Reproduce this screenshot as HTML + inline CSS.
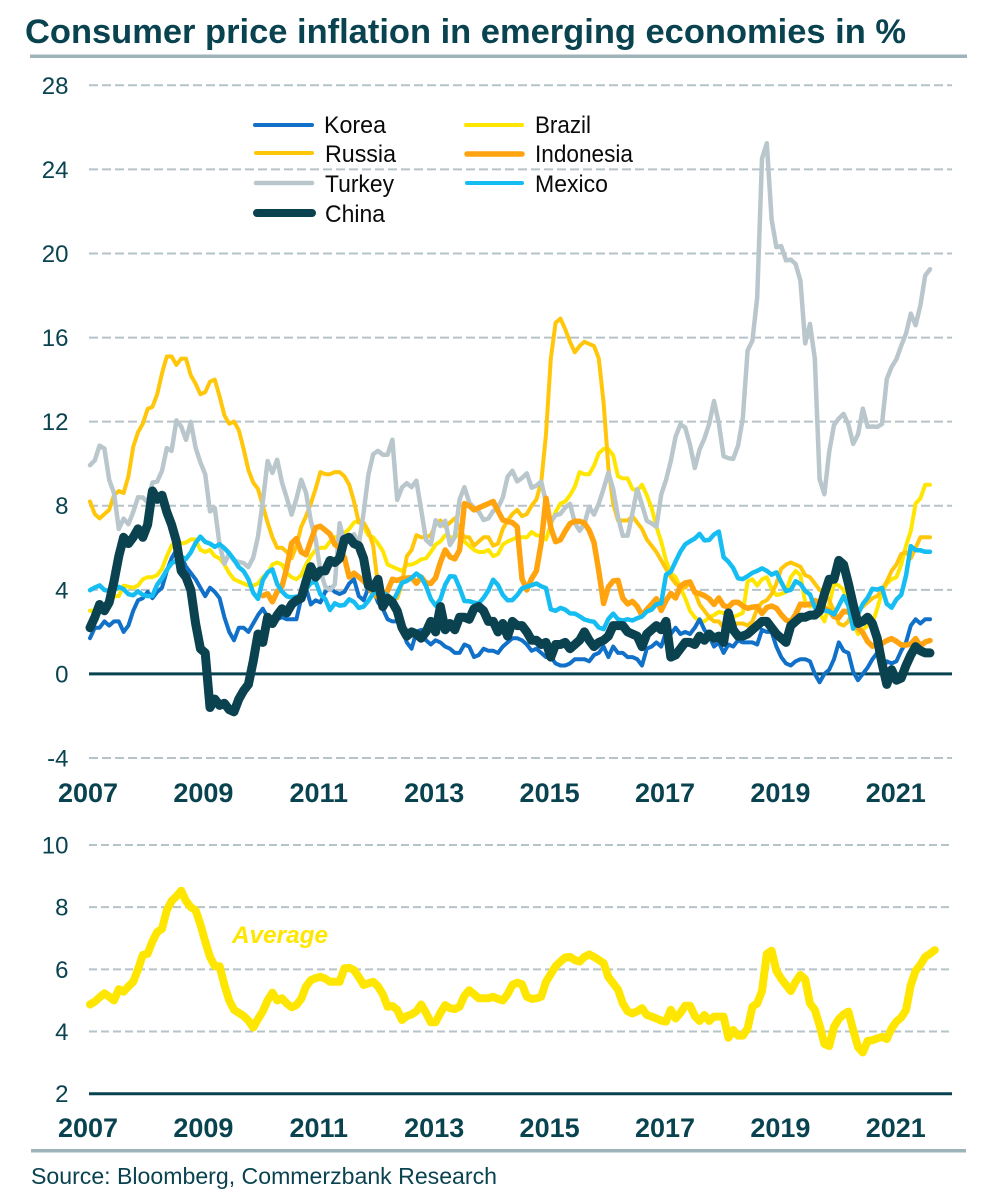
<!DOCTYPE html>
<html lang="en">
<head>
<meta charset="utf-8">
<title>Consumer price inflation in emerging economies</title>
<style>
html,body{margin:0;padding:0;background:#fff;}
#chart{display:block;width:983px;height:1200px;font-family:"Liberation Sans",sans-serif;}
</style>
</head>
<body>
<svg id="chart" xmlns="http://www.w3.org/2000/svg" width="983" height="1200" viewBox="0 0 983 1200">
  <rect x="0" y="0" width="983" height="1200" fill="#fff"/>
  <text x="25" y="43" font-size="34.5" font-weight="700" fill="#0a4350" textLength="881" lengthAdjust="spacingAndGlyphs">Consumer price inflation in emerging economies in %</text>
  <rect x="30" y="54.5" width="937" height="3.5" fill="#9fb3ba"/>
  <g id="top-grid"></g>
  <g id="top-series"></g>
  <g id="top-axis"></g>
  <g font-size="24" fill="#0a0a0a">
    <g><line x1="255" x2="312" y1="125" y2="125" stroke="#1170c8" stroke-width="4" stroke-linecap="round"/><text x="324" y="133" textLength="62" lengthAdjust="spacingAndGlyphs">Korea</text></g>
    <g><line x1="256" x2="312" y1="153" y2="153" stroke="#ffc60a" stroke-width="4" stroke-linecap="round"/><text x="325" y="162" textLength="71" lengthAdjust="spacingAndGlyphs">Russia</text></g>
    <g><line x1="256" x2="312" y1="183" y2="183" stroke="#b9c7cc" stroke-width="4.5" stroke-linecap="round"/><text x="325" y="192" textLength="69" lengthAdjust="spacingAndGlyphs">Turkey</text></g>
    <g><line x1="257" x2="312" y1="213" y2="213" stroke="#0b4250" stroke-width="8" stroke-linecap="round"/><text x="325" y="222" textLength="60" lengthAdjust="spacingAndGlyphs">China</text></g>
    <g><line x1="466" x2="522" y1="125" y2="125" stroke="#ffe600" stroke-width="4" stroke-linecap="round"/><text x="535" y="133" textLength="56" lengthAdjust="spacingAndGlyphs">Brazil</text></g>
    <g><line x1="467" x2="522" y1="154" y2="154" stroke="#ffa40f" stroke-width="5.5" stroke-linecap="round"/><text x="535" y="162" textLength="98" lengthAdjust="spacingAndGlyphs">Indonesia</text></g>
    <g><line x1="467" x2="522" y1="183" y2="183" stroke="#16bdf2" stroke-width="4" stroke-linecap="round"/><text x="535" y="192" textLength="73" lengthAdjust="spacingAndGlyphs">Mexico</text></g>
  </g>
  <g id="bottom-grid"></g>
  <g id="bottom-series"></g>
  <g id="bottom-axis"></g>
  <text x="232" y="943" font-size="24" font-weight="700" font-style="italic" fill="#ffe600" textLength="96" lengthAdjust="spacingAndGlyphs">Average</text>
  <rect x="31" y="1149" width="935" height="3.5" fill="#9fb3ba"/>
  <text x="31" y="1184" font-size="23" fill="#0a4350" textLength="466" lengthAdjust="spacingAndGlyphs">Source: Bloomberg, Commerzbank Research</text>
</svg>
<script>
// Monthly values, January 2007 onward (%).
const korea = [
 1.7,2.2,2.2,2.5,2.3,2.5,2.5,2.0,2.3,3.0,3.5,3.6,
 3.9,3.6,3.9,4.1,4.9,5.5,5.9,5.6,5.1,4.8,4.5,4.1,
 3.7,4.1,3.9,3.6,2.7,2.0,1.6,2.2,2.2,2.0,2.4,2.8,
 3.1,2.7,2.3,2.6,2.7,2.6,2.6,2.6,3.6,4.1,3.3,3.5,
 3.4,3.9,4.1,3.9,3.8,3.9,4.3,4.5,3.7,3.5,4.1,4.0,
 3.4,3.1,2.6,2.5,2.5,2.2,1.5,1.2,2.0,2.1,1.6,1.4,
 1.6,1.5,1.3,1.2,1.0,1.0,1.4,1.3,0.8,0.9,1.2,1.1,
 1.1,1.0,1.3,1.5,1.7,1.7,1.6,1.4,1.1,1.2,1.0,0.8,
 0.8,0.5,0.4,0.4,0.5,0.7,0.7,0.7,0.6,0.9,1.0,1.3,
 0.8,1.3,1.0,1.0,0.8,0.8,0.7,0.4,1.2,1.3,1.5,1.3,
 2.0,1.9,2.2,1.9,2.0,1.9,2.2,2.6,2.1,1.8,1.3,1.5,
 1.0,1.4,1.3,1.6,1.5,1.5,1.5,1.4,2.1,2.0,2.0,1.3,
 0.8,0.5,0.4,0.6,0.7,0.7,0.6,0.0,-0.4,0.0,0.2,0.7,
 1.5,1.1,1.0,0.1,-0.3,0.0,0.3,0.7,1.0,0.1,0.6,0.5,
 0.6,1.1,1.5,2.3,2.6,2.4,2.6,2.6];
const russia = [
 8.2,7.6,7.4,7.6,7.8,8.5,8.7,8.6,9.4,10.8,11.5,11.9,
 12.6,12.7,13.3,14.3,15.1,15.1,14.7,15.0,15.0,14.2,13.8,13.3,
 13.4,13.9,14.0,13.2,12.3,11.9,12.0,11.6,10.7,9.7,9.1,8.8,
 8.0,7.2,6.5,6.0,6.0,5.8,5.5,6.1,7.0,7.5,8.1,8.8,
 9.6,9.5,9.5,9.6,9.6,9.4,9.0,8.2,7.2,7.2,6.8,6.1,
 4.2,3.7,3.7,3.6,3.6,4.3,5.6,5.9,6.6,6.5,6.5,6.6,
 7.1,7.3,7.0,7.2,7.4,6.9,6.5,6.5,6.1,6.3,6.5,6.5,
 6.1,6.2,6.9,7.3,7.6,7.8,7.5,7.6,8.0,8.3,9.1,11.4,
 15.0,16.7,16.9,16.4,15.8,15.3,15.6,15.8,15.7,15.6,15.0,12.9,
 9.8,8.1,7.3,7.3,7.3,7.5,7.2,6.9,6.4,6.1,5.8,5.4,
 5.0,4.6,4.3,4.1,4.1,4.4,3.9,3.3,3.0,2.7,2.5,2.5,
 2.2,2.2,2.4,2.4,2.4,2.3,2.5,3.1,3.4,3.5,3.8,4.3,
 5.0,5.2,5.3,5.2,5.1,4.7,4.6,4.3,4.0,3.8,3.5,3.0,
 2.4,2.3,2.5,3.1,3.0,3.2,3.4,3.6,3.7,4.0,4.4,4.9,
 5.2,5.7,5.8,5.5,6.0,6.5,6.5,6.5];
const turkey = [
 9.93,10.16,10.86,10.72,9.23,8.6,6.9,7.39,7.12,7.7,8.4,8.39,
 8.17,9.1,9.15,9.66,10.74,10.61,12.06,11.77,11.13,11.99,10.76,10.06,
 9.5,7.73,7.89,6.13,5.24,5.73,5.39,5.33,5.27,5.08,5.53,6.53,
 8.19,10.13,9.56,10.19,9.1,8.37,7.58,8.33,9.24,8.62,7.29,6.4,
 4.9,4.16,3.99,4.26,7.17,6.24,6.31,6.65,6.15,7.66,9.48,10.45,
 10.61,10.43,10.43,11.14,8.28,8.87,9.07,8.88,9.19,7.8,6.37,6.16,
 7.31,7.03,7.29,6.13,6.51,8.3,8.88,8.17,7.88,7.71,7.32,7.4,
 7.75,7.89,8.39,9.38,9.66,9.16,9.32,9.54,8.86,8.96,9.15,8.17,
 7.24,7.55,7.61,7.91,8.09,7.2,6.81,7.14,7.95,7.58,8.1,8.81,
 9.58,8.78,7.46,6.57,6.58,7.64,8.79,8.05,7.28,7.16,7.0,8.53,
 9.22,10.13,11.29,11.87,11.72,10.9,9.79,10.68,11.2,11.9,12.98,11.92,
 10.35,10.26,10.23,10.85,12.15,15.39,15.85,17.9,24.52,25.24,21.62,20.3,
 20.35,19.67,19.71,19.5,18.71,15.72,16.65,15.01,9.26,8.55,10.56,11.84,
 12.15,12.37,11.86,10.94,11.39,12.62,11.76,11.77,11.75,11.89,14.03,14.6,
 14.97,15.61,16.19,17.14,16.59,17.53,18.95,19.25];
const china = [
 2.2,2.7,3.3,3.0,3.4,4.4,5.6,6.5,6.2,6.5,6.9,6.5,
 7.1,8.7,8.3,8.5,7.7,7.1,6.3,4.9,4.6,4.0,2.4,1.2,
 1.0,-1.6,-1.2,-1.5,-1.4,-1.7,-1.8,-1.2,-0.8,-0.5,0.6,1.9,
 1.5,2.7,2.4,2.8,3.1,2.9,3.3,3.5,3.6,4.4,5.1,4.6,
 4.9,4.9,5.4,5.3,5.5,6.4,6.5,6.2,6.1,5.5,4.2,4.1,
 4.5,3.2,3.6,3.4,3.0,2.2,1.8,2.0,1.9,1.7,2.0,2.5,
 2.0,3.2,2.1,2.4,2.1,2.7,2.7,2.6,3.1,3.2,3.0,2.5,
 2.5,2.0,2.4,1.8,2.5,2.3,2.3,2.0,1.6,1.6,1.4,1.5,
 0.8,1.4,1.4,1.5,1.2,1.4,1.6,2.0,1.6,1.3,1.5,1.6,
 1.8,2.3,2.3,2.3,2.0,1.9,1.8,1.3,1.9,2.1,2.3,2.1,
 2.5,0.8,0.9,1.2,1.5,1.5,1.4,1.8,1.6,1.9,1.7,1.8,
 1.5,2.9,2.1,1.8,1.8,1.9,2.1,2.3,2.5,2.5,2.2,1.9,
 1.7,1.5,2.3,2.5,2.7,2.7,2.8,2.8,3.0,3.8,4.5,4.5,
 5.4,5.2,4.3,3.3,2.4,2.5,2.7,2.4,1.7,0.5,-0.5,0.2,
 -0.3,-0.2,0.4,0.9,1.3,1.1,1.0,1.0];
const brazil = [
 3.0,3.0,3.0,3.0,3.2,3.7,3.7,4.2,4.15,4.1,4.2,4.5,
 4.6,4.6,4.7,5.0,5.6,6.1,6.4,6.2,6.25,6.4,6.4,5.9,
 5.8,5.9,5.6,5.5,5.2,4.8,4.5,4.4,4.3,4.2,4.2,4.3,
 4.6,4.8,5.2,5.3,5.2,4.8,4.6,4.5,4.7,5.2,5.6,5.9,
 6.0,6.0,6.3,6.5,6.55,6.7,6.9,7.2,7.3,7.0,6.6,6.5,
 6.2,5.85,5.2,5.1,5.0,4.9,5.2,5.2,5.3,5.45,5.5,5.8,
 6.15,6.3,6.6,6.5,6.5,6.7,6.3,6.1,5.9,5.8,5.8,5.9,
 5.6,5.7,6.15,6.3,6.4,6.5,6.5,6.5,6.75,6.6,6.55,6.4,
 7.1,7.7,8.1,8.2,8.5,8.9,9.6,9.5,9.5,9.9,10.5,10.7,
 10.7,10.4,9.4,9.3,9.3,8.8,8.7,9.0,8.5,7.9,7.0,6.3,
 5.4,4.8,4.6,4.1,3.6,3.0,2.7,2.5,2.5,2.7,2.8,2.95,
 2.9,2.8,2.7,2.8,2.9,4.4,4.5,4.2,4.5,4.6,4.05,3.75,
 3.8,3.9,4.6,4.9,4.7,3.4,3.2,3.4,2.9,2.5,3.3,4.3,
 4.2,4.0,3.3,2.4,1.9,2.1,2.3,2.4,3.1,3.9,4.3,4.5,
 4.6,5.2,6.1,6.8,8.1,8.35,9.0,9.0];
const indonesia = [
 null,null,null,null,null,null,null,null,null,null,null,null,
 null,null,null,null,null,null,null,null,null,null,null,null,
 null,null,null,null,null,null,null,null,null,null,null,null,
 3.72,3.81,3.43,3.91,4.16,5.05,6.22,6.44,5.8,5.67,6.33,6.96,
 7.02,6.84,6.65,6.16,5.98,5.54,4.61,4.79,4.61,4.42,4.15,3.79,
 3.65,3.56,3.97,4.5,4.45,4.53,4.56,4.58,4.31,4.61,4.32,4.3,
 4.57,5.31,5.9,5.57,5.47,5.9,8.1,8.0,7.8,7.9,8.0,8.1,
 8.2,7.75,7.32,7.25,7.2,7.0,4.53,3.99,4.53,4.9,6.23,8.36,
 6.96,6.29,6.38,6.79,7.15,7.26,7.26,7.18,6.83,6.25,4.89,3.35,
 4.14,4.42,4.45,3.6,3.33,3.45,3.21,2.79,3.07,3.31,3.58,3.02,
 3.49,3.83,3.61,4.17,4.33,4.37,3.88,3.82,3.72,3.58,3.3,3.61,
 3.25,3.18,3.4,3.41,3.23,3.12,3.18,3.2,2.88,3.16,3.23,3.13,
 2.82,2.57,2.48,2.83,3.32,3.28,3.32,3.49,3.39,3.13,3.0,2.72,
 2.68,2.98,2.96,2.67,2.19,1.96,1.54,1.32,1.42,1.44,1.59,1.68,
 1.55,1.38,1.37,1.42,1.68,1.33,1.52,1.59];
const mexico = [
 3.98,4.11,4.21,3.99,3.95,3.98,4.14,4.03,3.79,3.74,3.93,3.76,
 3.7,3.72,4.25,4.55,4.95,5.26,5.39,5.57,5.47,5.78,6.23,6.53,
 6.28,6.2,6.04,6.17,5.98,5.74,5.44,5.08,4.89,4.5,3.86,3.57,
 4.46,4.83,4.97,4.27,3.92,3.69,3.64,3.68,3.7,4.02,4.32,4.4,
 3.78,3.57,3.04,3.36,3.25,3.28,3.55,3.42,3.14,3.2,3.48,3.82,
 4.05,3.87,3.73,3.41,3.85,4.34,4.42,4.57,4.77,4.6,4.18,3.57,
 3.25,3.55,4.25,4.65,4.63,4.09,3.47,3.46,3.39,3.36,3.62,3.97,
 4.48,4.23,3.76,3.5,3.51,3.75,4.07,4.15,4.22,4.3,4.17,4.08,
 3.07,3.0,3.14,3.06,2.88,2.87,2.74,2.59,2.52,2.48,2.21,2.13,
 2.61,2.87,2.6,2.54,2.6,2.54,2.65,2.73,2.97,3.06,3.31,3.36,
 4.72,4.86,5.35,5.82,6.16,6.31,6.44,6.66,6.35,6.37,6.63,6.77,
 5.55,5.34,5.04,4.55,4.51,4.65,4.81,4.9,5.02,4.9,4.72,4.83,
 4.37,3.94,4.0,4.41,4.28,3.95,3.78,3.16,3.0,3.02,2.97,2.83,
 3.24,3.7,3.25,2.15,2.84,3.33,3.62,4.05,4.01,4.09,3.33,3.15,
 3.54,3.76,4.67,6.08,5.89,5.88,5.81,5.81];
const average = [
 4.87,4.96,5.1,5.23,5.12,5.0,5.36,5.28,5.45,5.6,6.0,6.46,
 6.5,6.9,7.2,7.3,7.9,8.2,8.35,8.53,8.2,8.0,7.9,7.45,
 6.9,6.4,6.1,6.1,5.5,5.0,4.7,4.6,4.5,4.35,4.13,4.4,
 4.65,5.0,5.25,5.0,5.07,4.9,4.78,4.85,5.05,5.45,5.65,5.72,
 5.76,5.7,5.6,5.6,5.6,6.03,6.05,5.98,5.75,5.5,5.55,5.6,
 5.45,5.2,4.8,4.82,4.7,4.37,4.5,4.55,4.65,4.87,4.6,4.3,
 4.3,4.6,4.85,4.75,4.72,4.8,5.15,5.33,5.2,5.07,5.07,5.07,
 5.12,5.05,5.0,5.2,5.5,5.57,5.52,5.12,5.05,5.07,5.12,5.6,
 5.85,6.1,6.25,6.38,6.4,6.3,6.25,6.4,6.48,6.4,6.3,6.2,
 5.75,5.55,5.35,4.9,4.65,4.58,4.65,4.75,4.53,4.48,4.42,4.35,
 4.32,4.7,4.42,4.6,4.83,4.83,4.5,4.34,4.53,4.34,4.48,4.48,
 4.48,3.8,4.05,3.87,3.87,4.1,4.8,4.9,5.3,6.5,6.6,5.95,
 5.7,5.5,5.3,5.6,5.82,5.68,4.9,4.7,4.2,3.6,3.53,4.15,
 4.4,4.55,4.64,4.05,3.5,3.33,3.7,3.72,3.78,3.83,3.76,4.1,
 4.32,4.45,4.69,5.5,5.95,6.15,6.4,6.5,6.62];
const topTicks = [28,24,20,16,12,8,4,0,-4];
const bottomTicks = [10,8,6,4,2];
const yearLabels = [2007,2009,2011,2013,2015,2017,2019,2021];

const NS = 'http://www.w3.org/2000/svg';
const TEAL = '#0a4350';
const GRID = '#b6c3c9';

function linear(d0, d1, r0, r1) {
  return function (v) { return r0 + (v - d0) * (r1 - r0) / (d1 - d0); };
}
const monthXTop = linear(0, 175, 90, 930);
const monthXBottom = linear(0, 176, 90, 934.8);
const yTop = linear(-4, 28, 758, 85.3);
const yBottom = linear(2, 10, 1093.7, 845);

function make(tag, attrs, parent) {
  const el = document.createElementNS(NS, tag);
  for (const k in attrs) el.setAttribute(k, attrs[k]);
  parent.appendChild(el);
  return el;
}

function drawGrid(parent, ticks, y, baseValue, dash) {
  ticks.forEach(function (t) {
    const line = make('line', {x1: 89, x2: 952, y1: y(t), y2: y(t)}, parent);
    
    
    if (t === baseValue) {
      line.setAttribute('stroke', TEAL);
      line.setAttribute('stroke-width', '3');
    } else {
      line.setAttribute('stroke', GRID);
      line.setAttribute('stroke-width', '2');
      line.setAttribute('stroke-dasharray', dash);
    }
  });
}

function drawYLabels(parent, ticks, y) {
  ticks.forEach(function (t) {
    const label = make('text', {x: 68.5, y: y(t) + 8.5, 'font-size': 24, 'text-anchor': 'end', fill: TEAL}, parent);
    
    
    label.textContent = String(t);
  });
}

function drawXLabels(parent, baseline) {
  yearLabels.forEach(function (year) {
    const label = make('text', {x: 88 + (year - 2007) * 57.7, y: baseline, 'font-size': 27, 'font-weight': 700, 'text-anchor': 'middle', fill: TEAL}, parent);
    
    
    label.textContent = String(year);
  });
}

function drawLine(parent, values, x, y, color, width, name) {
  let d = '';
  values.forEach(function (v, i) {
    if (v === null) return;
    d += (d ? 'L' : 'M') + x(i).toFixed(1) + ' ' + y(v).toFixed(1);
  });
  const path = make('path', {d: d, fill: 'none', stroke: color, 'stroke-width': width, 'stroke-linejoin': 'round', 'stroke-linecap': 'round'}, parent);
  
  
}

drawGrid(document.getElementById('top-grid'), topTicks, yTop, 0, '9 4');
drawGrid(document.getElementById('bottom-grid'), bottomTicks, yBottom, 2, '8 4');

const topSeries = document.getElementById('top-series');
drawLine(topSeries, brazil, monthXTop, yTop, '#ffe600', 4, 'series-brazil');
drawLine(topSeries, russia, monthXTop, yTop, '#ffc60a', 4, 'series-russia');
drawLine(topSeries, korea, monthXTop, yTop, '#1170c8', 4, 'series-korea');
drawLine(topSeries, turkey, monthXTop, yTop, '#b9c7cc', 4.5, 'series-turkey');
drawLine(topSeries, indonesia, monthXTop, yTop, '#ffa40f', 5.5, 'series-indonesia');
drawLine(topSeries, mexico, monthXTop, yTop, '#16bdf2', 4.5, 'series-mexico');
drawLine(topSeries, china, monthXTop, yTop, '#0b4250', 9, 'series-china');

drawLine(document.getElementById('bottom-series'), average, monthXBottom, yBottom, '#ffe600', 8, 'series-average');

drawYLabels(document.getElementById('top-axis'), topTicks, yTop);
drawXLabels(document.getElementById('top-axis'), 802);
drawYLabels(document.getElementById('bottom-axis'), bottomTicks, yBottom);
drawXLabels(document.getElementById('bottom-axis'), 1137);
</script>
</body>
</html>
